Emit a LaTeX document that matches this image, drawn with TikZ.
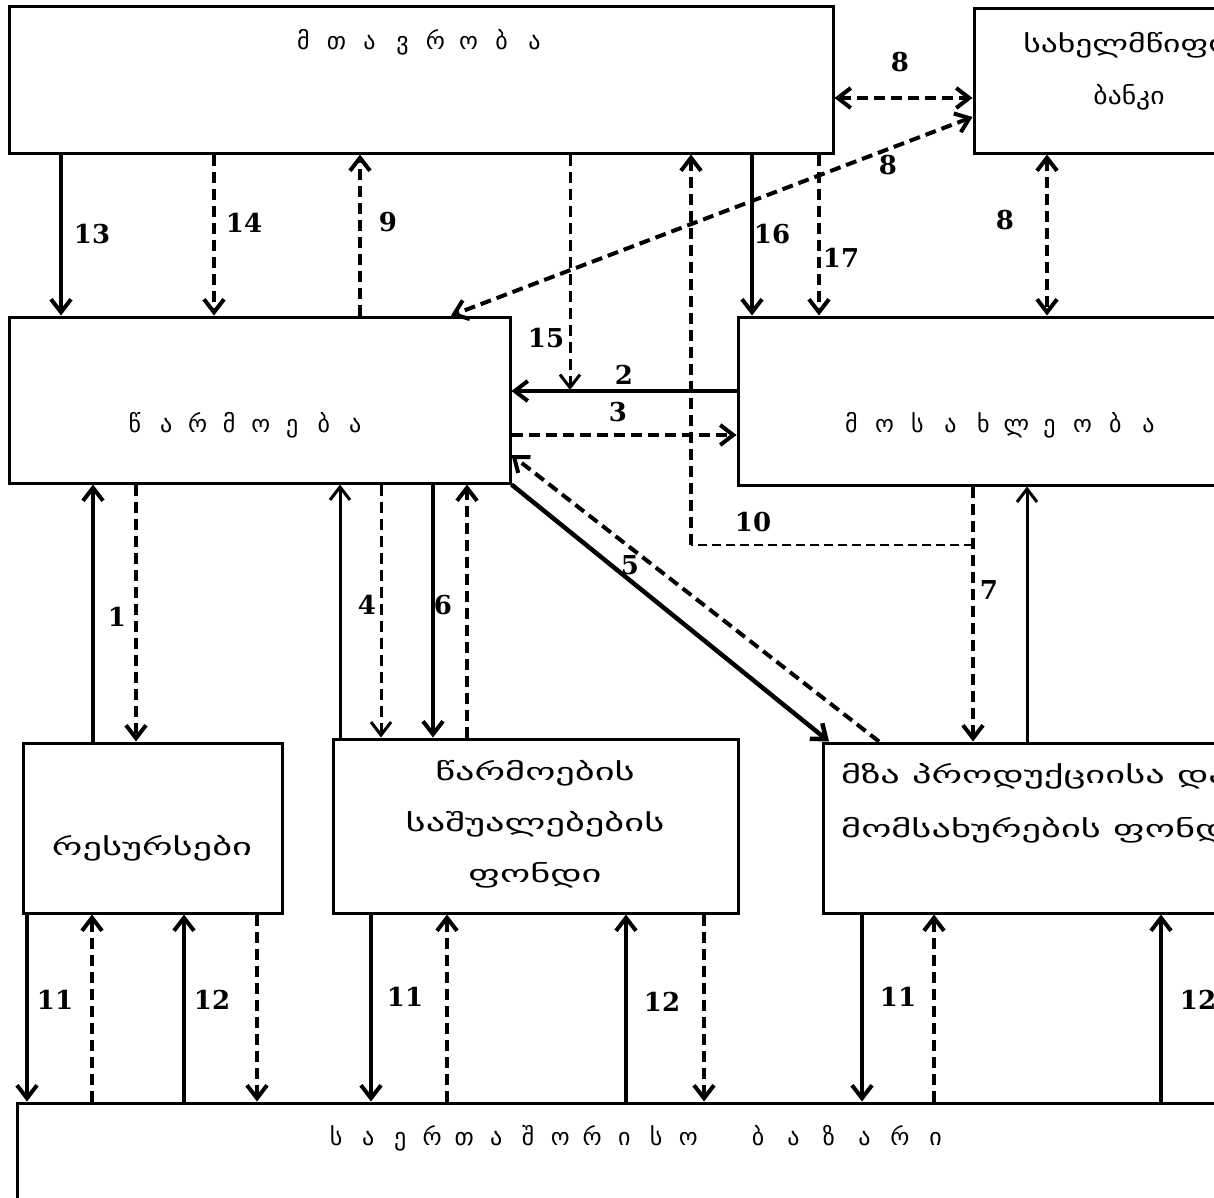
\documentclass[tikz,border=0pt]{standalone}
\usepackage{fontspec}
\usepackage{graphicx}
\setmainfont{DejaVu Sans}
\newfontfamily\numfont{DejaVu Serif}
\usetikzlibrary{arrows.meta}
\makeatletter
\newcommand\spc[2]{\@tfor\spc@ch:=#2\do{\makebox[#1]{\spc@ch}}}
\makeatother
\begin{document}
\begin{tikzpicture}[x=1pt,y=-1pt,
  box/.style={draw,line width=3pt,inner sep=0pt},
  tip/.style={-{Straight Barb[length=13pt,width=20pt]}},
  dtip/.style={{Straight Barb[length=13pt,width=20pt]}-{Straight Barb[length=13pt,width=20pt]}},
  sol/.style={line width=4pt,tip},
  solt/.style={line width=3pt,tip},
  dsh/.style={line width=4pt,dash pattern=on 11pt off 6pt,tip},
  dshd/.style={line width=4pt,dash pattern=on 11pt off 6pt,dtip},
  thind/.style={line width=2pt,dash pattern=on 9pt off 5pt},
  lbl/.style={font=\numfont\bfseries\fontsize{26}{30}\selectfont,inner sep=0pt},
  geo/.style={font=\fontsize{24}{28}\selectfont,inner sep=0pt},
  geob/.style={font=\fontsize{24}{51}\selectfont,inner sep=0pt,align=center}
]
\useasboundingbox (0,0) rectangle (1214,1197);
\fill[white] (0,0) rectangle (1214,1197);
\clip (0,0) rectangle (1214,1197);

% boxes
\node[box,minimum width=824pt,minimum height=147pt] (gov) at (421,79.5) {};
\node[box,minimum width=316pt,minimum height=145pt] (bank) at (1132,80.5) {};
\node[box,minimum width=501pt,minimum height=166pt] (prod) at (259.5,400) {};
\node[box,minimum width=527pt,minimum height=168pt] (pop) at (1001.5,401) {};
\node[box,minimum width=259pt,minimum height=170pt] (res) at (152.5,828) {};
\node[box,minimum width=405pt,minimum height=174pt] (means) at (535.5,826) {};
\node[box,minimum width=437pt,minimum height=170pt] (fin) at (1041.5,828) {};
\node[box,minimum width=1253pt,minimum height=112pt] (market) at (643.5,1159) {};

% texts
\node[geo] (govt) at (419,42) {\spc{33pt}{მთავრობა}};
\node[geob,font=\fontsize{24}{52}\selectfont] (bankt) at (1129,71) {\scalebox{1.4}[1]{სახელმწიფო}\\\scalebox{1.15}[1]{ბანკი}};
\node[geo] (prodt) at (245,425) {\spc{31.5pt}{წარმოება}};
\node[geo] (popt) at (1000,425) {\spc{33pt}{მოსახლეობა}};
\node[geob] (rest) at (152,848) {\scalebox{1.6}[1]{რესურსები}};
\node[geob] (meanst) at (535,824) {\scalebox{1.6}[1]{წარმოების}\\\scalebox{1.6}[1]{საშუალებების}\\\scalebox{1.6}[1]{ფონდი}};
\node[geob,font=\fontsize{24}{54}\selectfont,align=left,anchor=west] (fint) at (841,803) {\scalebox{1.6}[1]{მზა პროდუქციისა და}\\\scalebox{1.6}[1]{მომსახურების ფონდი}};
\node[geo,anchor=west] (markett) at (320,1138) {\spc{32pt}{საერთაშორისო}\hspace{36pt}\spc{35.5pt}{ბაზარი}};

% top connectors
\draw[sol] (61,0 |- gov.south) -- (61,0 |- prod.north);
\draw[dsh] (214,0 |- gov.south) -- (214,0 |- prod.north);
\draw[dsh] (360,0 |- prod.north) -- (360,0 |- gov.south);
\coordinate (j15) at (570,390);
\draw[dsh,line width=3pt] (570,0 |- gov.south) -- (j15);
\draw[sol] (752,0 |- gov.south) -- (752,0 |- pop.north);
\draw[dsh] (819,0 |- gov.south) -- (819,0 |- pop.north);
\draw[dshd] (1047,0 |- bank.south) -- (1047,0 |- pop.north);
\draw[dshd] (gov.east |- 0,98) -- (bank.west |- 0,98);
\draw[dshd] (bank.west |- 0,117) -- (451,0 |- prod.north);

% middle connectors
\draw[sol] (pop.west |- 0,391) -- (prod.east |- 0,391);
\draw[dsh] (prod.east |- 0,435) -- (pop.west |- 0,435);
\draw[sol,line width=4.5pt] (prod.south east) -- (829,0 |- fin.north);
\draw[dsh] (879,0 |- fin.north) -- (prod.east |- 0,455);
\draw[dsh] (973,0 |- pop.south) -- (973,0 |- fin.north);
\draw[solt] (1027,0 |- fin.north) -- (1027,0 |- pop.south);
\coordinate (j10) at (973,545);
\coordinate (k10) at (691,545);
\draw[thind] (j10) -- (k10);
\draw[dsh] (k10) -- (691,0 |- gov.south);

% production to lower boxes
\draw[sol] (93,0 |- res.north) -- (93,0 |- prod.south);
\draw[dsh] (136,0 |- prod.south) -- (136,0 |- res.north);
\draw[solt] (340,0 |- means.north) -- (340,0 |- prod.south);
\draw[dsh,line width=3pt] (381,0 |- prod.south) -- (381,0 |- means.north);
\draw[sol] (433,0 |- prod.south) -- (433,0 |- means.north);
\draw[dsh] (467,0 |- means.north) -- (467,0 |- prod.south);

% bottom connectors
\draw[sol] (27,0 |- res.south) -- (27,0 |- market.north);
\draw[dsh] (92,0 |- market.north) -- (92,0 |- res.south);
\draw[sol] (184,0 |- market.north) -- (184,0 |- res.south);
\draw[dsh] (257,0 |- res.south) -- (257,0 |- market.north);
\draw[sol] (371,0 |- means.south) -- (371,0 |- market.north);
\draw[dsh] (447,0 |- market.north) -- (447,0 |- means.south);
\draw[sol] (626,0 |- market.north) -- (626,0 |- means.south);
\draw[dsh] (704,0 |- means.south) -- (704,0 |- market.north);
\draw[sol] (862,0 |- fin.south) -- (862,0 |- market.north);
\draw[dsh] (934,0 |- market.north) -- (934,0 |- fin.south);
\draw[sol] (1161,0 |- market.north) -- (1161,0 |- fin.south);

% labels
\node[lbl] (l13) at (92,234) {13};
\node[lbl] (l14) at (244,223) {14};
\node[lbl] (l9) at (388,222) {9};
\node[lbl] (l16) at (772,234) {16};
\node[lbl] (l17) at (841,258) {17};
\node[lbl] (l8a) at (900,62) {8};
\node[lbl] (l8b) at (888,165) {8};
\node[lbl] (l8c) at (1005,220) {8};
\node[lbl] (l15) at (546,338) {15};
\node[lbl] (l2) at (624,375) {2};
\node[lbl] (l3) at (618,412) {3};
\node[lbl] (l10) at (753,522) {10};
\node[lbl] (l5) at (630,565) {5};
\node[lbl] (l7) at (989,590) {7};
\node[lbl] (l1) at (117,617) {1};
\node[lbl] (l4) at (367,605) {4};
\node[lbl] (l6) at (443,605) {6};
\node[lbl] (l11a) at (55,1000) {11};
\node[lbl] (l12a) at (212,1000) {12};
\node[lbl] (l11b) at (405,997) {11};
\node[lbl] (l12b) at (662,1002) {12};
\node[lbl] (l11c) at (898,997) {11};
\node[lbl] (l12c) at (1198,1000) {12};
\end{tikzpicture}
\end{document}
